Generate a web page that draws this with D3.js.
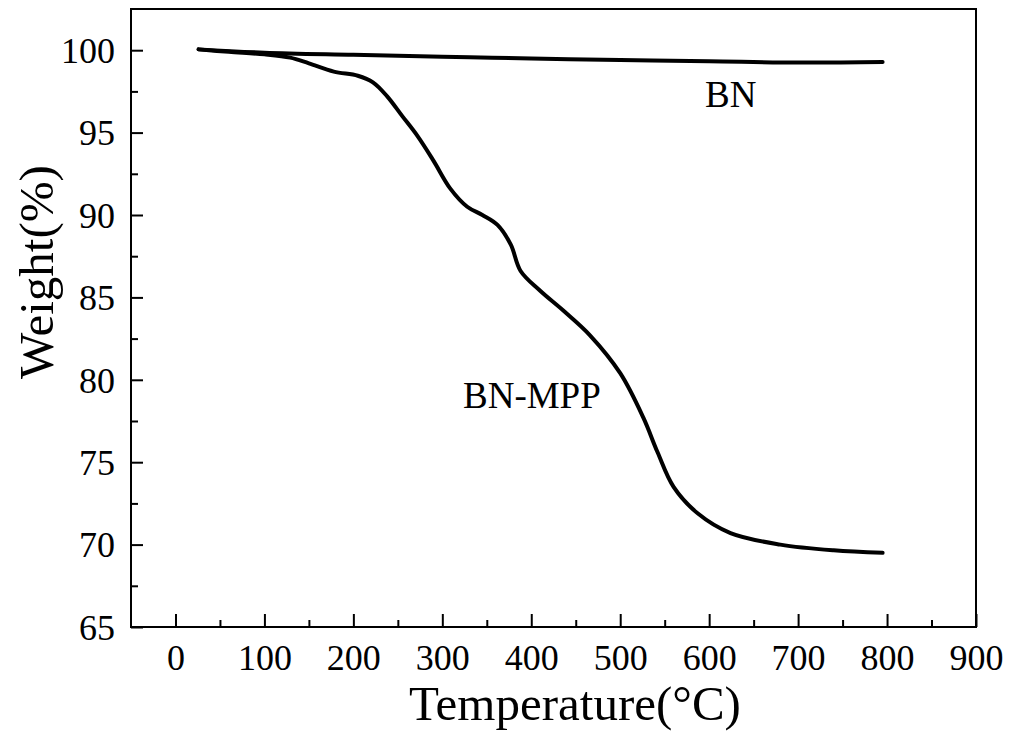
<!DOCTYPE html>
<html>
<head>
  <meta charset="utf-8">
  <title>TGA curves</title>
  <style>
    body { margin: 0; background: #fff; }
    svg { display: block; }
    .tick-label { font-family: 'Liberation Serif', 'Times New Roman', serif; font-size: 36px; fill: #000; }
    .axis-title { font-family: 'Liberation Serif', 'Times New Roman', serif; font-size: 49px; fill: #000; }
    .series-label { font-family: 'Liberation Serif', 'Times New Roman', serif; font-size: 37px; fill: #000; }
  </style>
</head>
<body>
  <div id="chart"></div>

  <script src="https://cdnjs.cloudflare.com/ajax/libs/d3/7.8.5/d3.min.js"></script>
  <script>
    // values
    const bnTemp = [26, 100, 200, 300, 400, 500, 600, 700, 795];
    const bnWeight = [100.05, 99.85, 99.72, 99.6, 99.5, 99.4, 99.33, 99.25, 99.28];

    const mppTemp = [26, 60, 100, 129, 150, 178, 205, 222, 238, 255, 272, 290, 309, 328, 345, 362, 377, 388, 410, 436, 466, 500, 526, 542, 560, 587, 624, 680, 740, 795];
    const mppWeight = [100.05, 99.9, 99.75, 99.55, 99.2, 98.7, 98.45, 98.05, 97.2, 96.0, 94.8, 93.3, 91.6, 90.5, 90.0, 89.4, 88.2, 86.6, 85.4, 84.2, 82.7, 80.4, 77.7, 75.6, 73.5, 71.9, 70.7, 70.0, 69.65, 69.5];

    const xMajorTicks = [0, 100, 200, 300, 400, 500, 600, 700, 800, 900];
    const xMinorTicks = [50, 150, 250, 350, 450, 550, 650, 750, 850];
    const yMajorTicks = [65, 70, 75, 80, 85, 90, 95, 100];
    const yMinorTicks = [67.5, 72.5, 77.5, 82.5, 87.5, 92.5, 97.5];

    const width = 1013;
    const height = 737;
    const margin = { top: 9, right: 37, bottom: 110, left: 131 };
    const plotW = width - margin.left - margin.right;
    const plotH = height - margin.top - margin.bottom;

    const svg = d3.select('#chart')
      .append('svg')
      .attr('width', width)
      .attr('height', height);

    const g = svg.append('g')
      .attr('transform', `translate(${margin.left},${margin.top})`);

    const x = d3.scaleLinear().domain([-50, 900]).range([0, plotW]);
    const y = d3.scaleLinear().domain([65, 102.5]).range([plotH, 0]);

    // frame
    g.append('rect')
      .attr('x', 0)
      .attr('y', 0)
      .attr('width', plotW)
      .attr('height', plotH)
      .attr('fill', 'none')
      .attr('stroke', '#000')
      .attr('stroke-width', 2);

    // inward ticks, x
    const xAxis = g.append('g').attr('transform', `translate(0,${plotH})`);
    xAxis.call(d3.axisBottom(x).tickValues(xMajorTicks).tickSizeInner(-13).tickSizeOuter(0).tickFormat(d3.format('d')));
    xAxis.append('g').call(d3.axisBottom(x).tickValues(xMinorTicks).tickSizeInner(-7).tickSizeOuter(0).tickFormat(''));

    // inward ticks, y
    const yAxis = g.append('g');
    yAxis.call(d3.axisLeft(y).tickValues(yMajorTicks).tickSizeInner(-12).tickSizeOuter(0).tickPadding(16).tickFormat(d3.format('d')));
    yAxis.append('g').call(d3.axisLeft(y).tickValues(yMinorTicks).tickSizeInner(-7).tickSizeOuter(0).tickFormat(''));

    g.selectAll('.domain').remove();
    g.selectAll('.tick line').attr('stroke', '#000').attr('stroke-width', 2);
    g.selectAll('.tick text').attr('class', 'tick-label').attr('font-size', null).attr('font-family', null);
    xAxis.selectAll('.tick text').attr('dy', null).attr('y', 43);
    yAxis.selectAll('.tick text').attr('dy', '0.34em');

    const line = d3.line()
      .x(d => x(d[0]))
      .y(d => y(d[1]))
      .curve(d3.curveCatmullRom.alpha(0.5));

    const bnData = bnTemp.map((t, i) => [t, bnWeight[i]]);
    const mppData = mppTemp.map((t, i) => [t, mppWeight[i]]);

    g.append('path')
      .datum(bnData)
      .attr('d', line)
      .attr('fill', 'none')
      .attr('stroke', '#000')
      .attr('stroke-width', 4)
      .attr('stroke-linecap', 'round');

    g.append('path')
      .datum(mppData)
      .attr('d', line)
      .attr('fill', 'none')
      .attr('stroke', '#000')
      .attr('stroke-width', 4)
      .attr('stroke-linecap', 'round');

    // series labels
    svg.append('text')
      .attr('class', 'series-label')
      .attr('x', 705)
      .attr('y', 107)
      .text('BN');

    svg.append('text')
      .attr('class', 'series-label')
      .attr('x', 463)
      .attr('y', 408)
      .text('BN-MPP');

    // axis titles
    svg.append('text')
      .attr('class', 'axis-title')
      .attr('x', 575)
      .attr('y', 720)
      .attr('text-anchor', 'middle')
      .text('Temperature(°C)');

    svg.append('text')
      .attr('class', 'axis-title')
      .attr('transform', 'translate(53,272) rotate(-90)')
      .attr('text-anchor', 'middle')
      .text('Weight(%)');
  </script>
</body>
</html>
